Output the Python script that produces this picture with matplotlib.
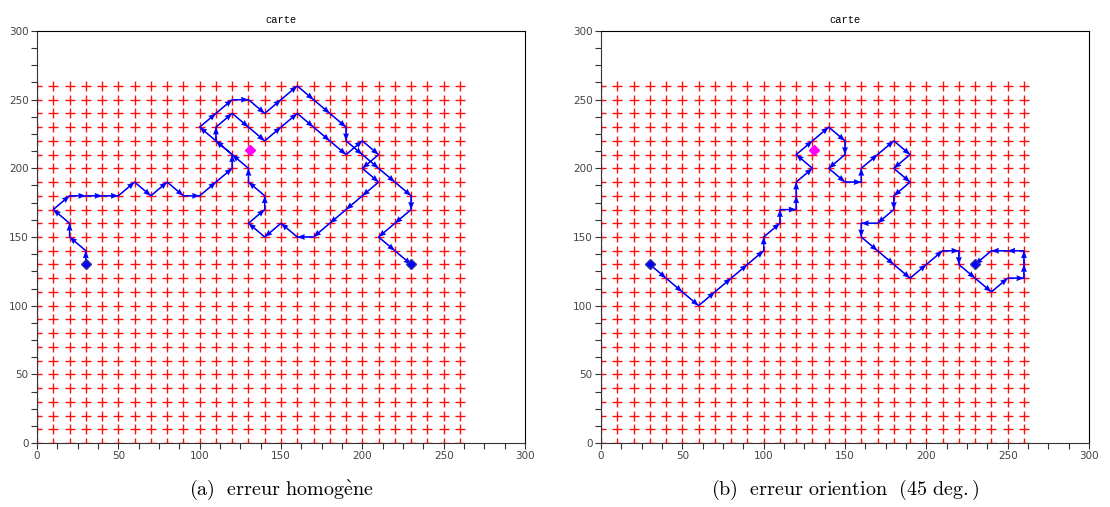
"""
    Deux cartes de trajectoires (erreur homogene / erreur orientation)
"""

import numpy as np
import matplotlib.pyplot as plt
from matplotlib.ticker import MultipleLocator

plt.rcParams['mathtext.fontset'] = 'cm'

# grille des amers (croix rouges)
grid_vals = np.arange(0, 261, 10)

# point magenta (cible)
target = (131, 213)

# (a) erreur homogene
path_a_x = [30, 30, 20, 20, 10, 20, 30, 40, 50, 60, 70, 80, 90, 100, 110, 120, 120,
            110, 110, 120, 130, 140, 150, 160, 170, 180, 190, 200, 210, 200, 210,
            200, 190, 180, 170, 160, 150, 140, 130, 140, 140, 130, 130, 120, 110,
            100, 110, 120, 130, 140, 150, 160, 170, 180, 190, 190, 200, 210, 220,
            230, 230, 220, 210, 220, 230]
path_a_y = [130, 140, 150, 160, 170, 180, 180, 180, 180, 190, 180, 190, 180, 180, 190, 200, 210,
            220, 230, 240, 230, 220, 230, 240, 230, 220, 210, 220, 210, 200, 190,
            180, 170, 160, 150, 150, 160, 150, 160, 170, 180, 190, 200, 210, 220,
            230, 240, 250, 250, 240, 250, 260, 250, 240, 230, 220, 210, 200, 190,
            180, 170, 160, 150, 140, 130]

# (b) erreur orientation (45 deg.)
path_b_x = [30, 40, 50, 60, 70, 80, 90, 100, 100, 110, 110, 120, 120, 120, 130, 120,
            130, 140, 150, 150, 140, 150, 160, 160, 170, 180, 190, 180, 190, 180,
            180, 170, 160, 160, 170, 180, 190, 200, 210, 220, 220, 230, 240, 250,
            260, 260, 260, 250, 240, 230]
path_b_y = [130, 120, 110, 100, 110, 120, 130, 140, 150, 160, 170, 170, 180, 190, 200, 210,
            220, 230, 220, 210, 200, 190, 190, 200, 210, 220, 210, 200, 190, 180,
            170, 160, 160, 150, 140, 130, 120, 130, 140, 140, 130, 120, 110, 120,
            120, 130, 140, 140, 140, 130]

captions = [r'$\mathrm{(a)\ \ erreur\ homog\grave{e}ne}$',
            r'$\mathrm{(b)\ \ erreur\ oriention\ \ (45\ deg.)}$']


def draw_map(ax, px, py, caption):
    gx, gy = np.meshgrid(grid_vals, grid_vals)
    ax.plot(gx.ravel(), gy.ravel(), '+', color='#ff1010', markersize=6.5,
            markeredgewidth=1.0, zorder=1)

    px = np.array(px, dtype=float)
    py = np.array(py, dtype=float)
    ax.plot(px, py, '-', color='blue', lw=1.0, zorder=2)
    ax.quiver(px[:-1], py[:-1], np.diff(px), np.diff(py), color='blue',
              angles='xy', scale_units='xy', scale=1, width=0.0022,
              headwidth=5.5, headlength=7, headaxislength=6.5, zorder=3)

    ax.plot([px[0], px[-1]], [py[0], py[-1]], 'D', color='blue',
            markeredgecolor='#3030a0', markersize=5.5, zorder=4)
    ax.plot([target[0]], [target[1]], 'D', color='magenta', markersize=5.5, zorder=4)

    ax.set_xlim(0, 300)
    ax.set_ylim(0, 300)
    ax.xaxis.set_major_locator(MultipleLocator(50))
    ax.yaxis.set_major_locator(MultipleLocator(50))
    ax.xaxis.set_minor_locator(MultipleLocator(12.5))
    ax.yaxis.set_minor_locator(MultipleLocator(12.5))
    ax.tick_params(which='both', direction='out', length=4, width=0.8,
                   colors='#333333', labelsize=7.5, labelcolor='#444444', pad=2)
    for side in ['left', 'bottom']:
        ax.spines[side].set_color('#333333')
    for side in ['top', 'right']:
        ax.spines[side].set_color('black')
    ax.set_title('carte', fontfamily='Liberation Mono', fontsize=7.5, pad=6)
    ax.text(0.5, -0.114, caption, transform=ax.transAxes, ha='center',
            va='center', fontsize=14.5)


fig = plt.figure(figsize=(11.1, 5.07), dpi=100)
ax_a = fig.add_axes([37 / 1110, 64 / 507, 488 / 1110, 412 / 507])
ax_b = fig.add_axes([601 / 1110, 64 / 507, 488 / 1110, 412 / 507])

draw_map(ax_a, path_a_x, path_a_y, captions[0])
draw_map(ax_b, path_b_x, path_b_y, captions[1])

fig.savefig('out.png', dpi=100)
